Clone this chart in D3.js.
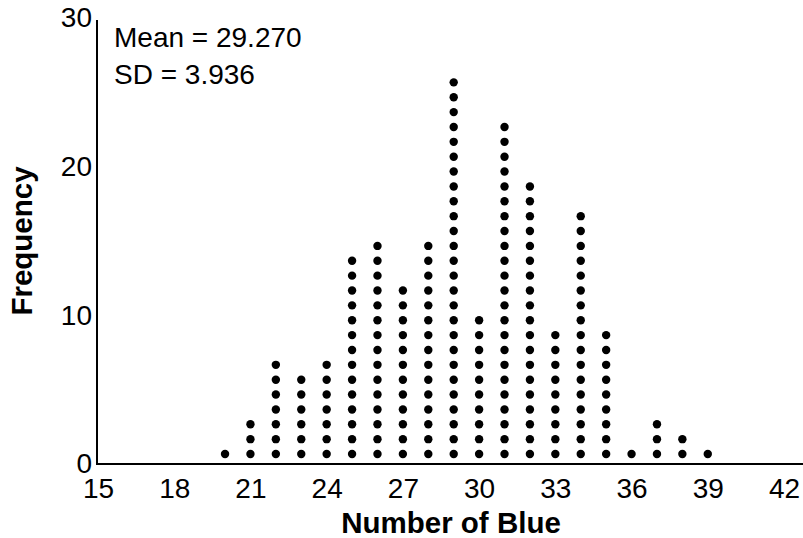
<!DOCTYPE html>
<html>
<head>
<meta charset="utf-8">
<script src="https://cdn.jsdelivr.net/npm/d3@7"></script>
<style>
  body { margin: 0; background: #fff; }
  text { font-family: "Liberation Sans", Arial, Helvetica, sans-serif; }
</style>
</head>
<body>
<div id="chart"></div>
<script>
// Data: number of blue per sample and how many samples gave it
const blueValues = [20, 21, 22, 23, 24, 25, 26, 27, 28, 29, 30, 31, 32, 33, 34, 35, 36, 37, 38, 39];
const blueCounts = [1, 3, 7, 6, 7, 14, 15, 12, 15, 26, 10, 23, 19, 9, 17, 9, 1, 3, 2, 1];
const xTicks = [15, 18, 21, 24, 27, 30, 33, 36, 39, 42];
const yTicks = [0, 10, 20, 30];
const statLines = ["Mean = 29.270", "SD = 3.936"];

const W = 803, H = 538;

const svg = d3.select("#chart")
    .append("svg")
    .attr("width", W)
    .attr("height", H);

//Scales
const x = d3.scaleLinear().domain([15, 42]).range([98, 784]);
const y = d3.scaleLinear().domain([0, 30]).range([464, 18]);

//X axis (labels only, line drawn below)
const xAxis = svg.append("g")
    .attr("transform", `translate(0, ${y(0)})`)
    .call(d3.axisBottom(x).tickValues(xTicks).tickSize(0).tickPadding(14));
xAxis.select(".domain").remove();
xAxis.selectAll("text")
    .attr("font-size", "28px")
    .attr("font-family", "Liberation Sans, Arial, sans-serif")
    .attr("fill", "#000");

//Y axis
const yAxis = svg.append("g")
    .attr("transform", `translate(${x(15) - 1}, 0)`)
    .call(d3.axisLeft(y).tickValues(yTicks).tickSize(0).tickPadding(5));
yAxis.select(".domain").remove();
yAxis.selectAll("text")
    .attr("font-size", "28px")
    .attr("font-family", "Liberation Sans, Arial, sans-serif")
    .attr("fill", "#000");

//Axis lines
svg.append("line")
    .attr("x1", x(15) - 1).attr("x2", W)
    .attr("y1", y(0)).attr("y2", y(0))
    .attr("stroke", "#000").attr("stroke-width", 2);
svg.append("line")
    .attr("x1", x(15) - 1).attr("x2", x(15) - 1)
    .attr("y1", y(30) + 2).attr("y2", y(0) + 1)
    .attr("stroke", "#000").attr("stroke-width", 2);

//Dots, one per sample, stacked in columns
const dots = [];
blueValues.forEach((v, i) => {
    for (let k = 1; k <= blueCounts[i]; k++) dots.push({v: v, k: k});
});
svg.selectAll("circle.dot")
    .data(dots)
    .join("circle")
    .attr("class", "dot")
    .attr("cx", d => x(d.v))
    .attr("cy", d => y(d.k - 0.33))
    .attr("r", 4.2)
    .attr("fill", "#000");

//Summary stats
svg.selectAll("text.stat")
    .data(statLines)
    .join("text")
    .attr("class", "stat")
    .attr("x", 114)
    .attr("y", (d, i) => 47 + i * 36.5)
    .attr("font-size", "28px")
    .text(d => d);

//Axis titles
svg.append("text")
    .attr("x", 451)
    .attr("y", 533)
    .attr("text-anchor", "middle")
    .attr("font-size", "29.5px")
    .attr("font-weight", "bold")
    .text("Number of Blue");

svg.append("text")
    .attr("transform", "translate(32, 241) rotate(-90)")
    .attr("text-anchor", "middle")
    .attr("font-size", "29.5px")
    .attr("font-weight", "bold")
    .text("Frequency");
</script>
</body>
</html>
